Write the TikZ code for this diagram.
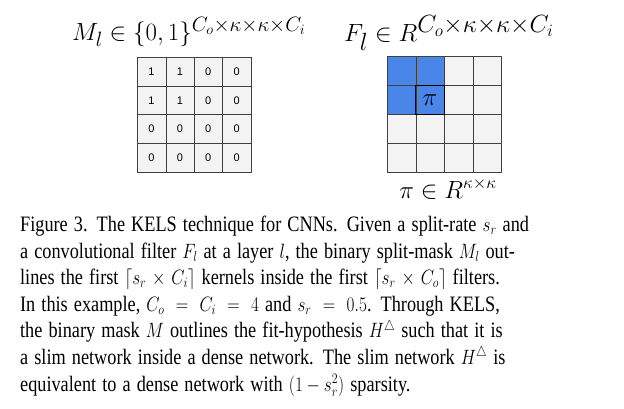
\documentclass[tikz,border=0pt]{standalone}
\usepackage{fontspec}
\setmainfont{Liberation Serif}
\newfontfamily\cellfont{Liberation Sans}
\usetikzlibrary{positioning}

\definecolor{cellgray}{HTML}{F3F3F3}
\definecolor{slimblue}{HTML}{4A86E8}

% one justified caption line
\newcommand{\capline}[1]{\makebox[578pt][s]{#1}\\}

\begin{document}
\begin{tikzpicture}[x=1pt, y=-1pt,
    cell/.style={draw=black!75, fill=cellgray, minimum width=28.4pt, minimum height=28.7pt,
        inner sep=0pt, font=\cellfont\fontsize{11}{11}\selectfont},
    slim/.style={cell, fill=slimblue},
    title/.style={inner sep=0pt, anchor=base west}]
    \useasboundingbox (0,0) rectangle (624,409);

    % Split-mask titles
    \node[title, font=\fontsize{29.5}{33}\selectfont] (masktitle) at (72,40.5)
        {$M_l \in \{0,1\}^{C_o\times\kappa\times\kappa\times C_i}$};
    \node[title, font=\fontsize{33}{37}\selectfont] (filtertitle) at (344,41.5)
        {$F_l \in R^{C_o\times\kappa\times\kappa\times C_i}$};

    % Binary split-mask M_l
    \foreach \v [count=\i from 0] in {1,1,0,0, 1,1,0,0, 0,0,0,0, 0,0,0,0} {
        \pgfmathtruncatemacro\r{\i/4}
        \pgfmathtruncatemacro\c{mod(\i,4)}
        \node[cell] (m-\r-\c) at (151.5+28.4*\c, 71.6+28.7*\r) {\v};
    }

    % Convolutional filter F_l
    \foreach \i in {0,...,15} {
        \pgfmathtruncatemacro\r{\i/4}
        \pgfmathtruncatemacro\c{mod(\i,4)}
        \node[cell, minimum width=28.5pt, minimum height=28.9pt] (f-\r-\c) at (401.5+28.5*\c, 71.1+28.9*\r) {};
    }
    \node[slim, minimum width=28.5pt, minimum height=28.9pt] at (f-0-0) {};
    \node[slim, minimum width=28.5pt, minimum height=28.9pt] at (f-0-1) {};
    \node[slim, minimum width=28.5pt, minimum height=28.9pt] at (f-1-0) {};
    \node[slim, minimum width=28.5pt, minimum height=28.9pt,
        font=\fontsize{36}{36}\selectfont] (kernel) at (f-1-1) {$\pi$};
    \draw[line width=1.5pt] (kernel.north west) rectangle (kernel.south east);

    % Kernel shape
    \node[font=\fontsize{27}{30}\selectfont, inner sep=0pt, anchor=base] (kerneltitle) at (448,198)
        {$\pi \in R^{\kappa\times\kappa}$};

    % Caption
    \node[inner sep=0pt, anchor=base west, text width=578pt, align=left, xscale=0.83, transform shape,
        font=\fontsize{22}{26.6}\selectfont] (caption) at (20,231.5)
        {\capline{Figure 3. The KELS technique for CNNs. Given a split-rate $s_r$ and}
        \capline{a convolutional filter $F_l$ at a layer $l$, the binary split-mask $M_l$ out-}
        \capline{lines the first $\lceil s_r \times C_i \rceil$ kernels inside the first $\lceil s_r \times C_o \rceil$ filters.}
        \capline{In this example, $C_o = C_i = 4$ and $s_r = 0.5$. Through KELS,}
        \capline{the binary mask $M$ outlines the fit-hypothesis $H^{\triangle}$ such that it is}
        \capline{a slim network inside a dense network. The slim network $H^{\triangle}$ is}
        equivalent to a dense network with $(1 - s_r^2)$ sparsity.};
\end{tikzpicture}
\end{document}
